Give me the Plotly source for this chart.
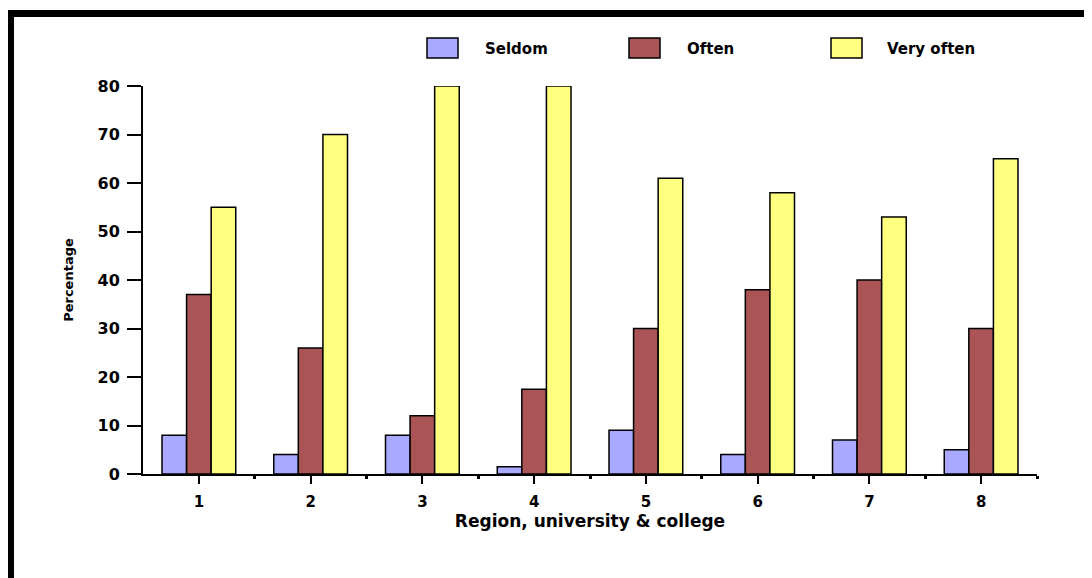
import plotly.graph_objects as go

# ---- data ----
categories = [1, 2, 3, 4, 5, 6, 7, 8]
series_names = ["Seldom", "Often", "Very often"]
seldom = [8, 4, 8, 1.5, 9, 4, 7, 5]
often = [37, 26, 12, 17.5, 30, 38, 40, 30]
very_often = [55, 70, 80, 80, 61, 58, 53, 65]
y_ticks = [0, 10, 20, 30, 40, 50, 60, 70, 80]
colors = ["#A9A9FF", "#AA5455", "#FFFF80"]

# page body has an 8px default margin; compensate so the picture lines up
OFF = 8
W, H = 1092 - OFF, 578 - OFF
L, R, T, B = 143 - OFF, 1037 - OFF, 86 - OFF, 474 - OFF  # plot area


def xp(px):
    return (px - OFF - L) / (R - L)


def yp(py):
    return (B - (py - OFF)) / (B - T)


FONT = "DejaVu Sans"

fig = go.Figure()
for name, vals, col in zip(series_names, [seldom, often, very_often], colors):
    fig.add_trace(go.Bar(
        x=categories, y=vals, name=name,
        marker=dict(color=col, line=dict(color="black", width=1.5)),
        showlegend=False,
    ))

fig.update_layout(
    width=W, height=H,
    margin=dict(l=L, r=W - R, t=T, b=H - B),
    paper_bgcolor="white", plot_bgcolor="white",
    barmode="group", bargap=0.34, bargroupgap=0,
    font=dict(family=FONT, color="black"),
)

fig.update_xaxes(
    range=[0.5, 8.5], tickmode="array", tickvals=categories,
    ticktext=[str(c) for c in categories],
    ticks="outside", ticklen=8, tickwidth=1.5, tickcolor="black",
    minor=dict(tickvals=[c + 0.5 for c in categories], ticklen=3, tickwidth=3,
               tickcolor="black", ticks="outside"),
    showline=True, linecolor="black", linewidth=2,
    showgrid=False, zeroline=False,
    tickfont=dict(family=FONT, size=15, color="black", weight="bold"),
    ticklabelstandoff=5,
    title=dict(text="<b>Region, university & college</b>",
               font=dict(family=FONT, size=17, color="black"), standoff=3),
)
fig.update_yaxes(
    range=[0, 80], tickmode="array", tickvals=y_ticks,
    ticks="outside", ticklen=14, tickwidth=1.5, tickcolor="black",
    showline=True, linecolor="black", linewidth=2,
    showgrid=False, zeroline=False,
    tickfont=dict(family=FONT, size=16, color="black", weight="bold"),
    ticklabelstandoff=4,
    title=dict(text="<b>Percentage</b>",
               font=dict(family=FONT, size=13, color="black"), standoff=21),
)

shapes = []
# outer black frame (extends beyond bottom of the picture)
shapes.append(dict(type="rect", xref="paper", yref="paper",
                   x0=xp(10.5), x1=xp(1089.5), y0=yp(620), y1=yp(13.5),
                   line=dict(color="black", width=7), fillcolor="rgba(0,0,0,0)",
                   layer="above"))

# manual legend boxes + labels
annotations = []
box_x0 = [427, 629, 831]
text_x = [483, 685, 885]
for name, col, bx, tx in zip(series_names, colors, box_x0, text_x):
    shapes.append(dict(type="rect", xref="paper", yref="paper",
                       x0=xp(bx), x1=xp(bx + 31), y0=yp(58), y1=yp(38),
                       line=dict(color="black", width=1.5), fillcolor=col))
    annotations.append(dict(xref="paper", yref="paper", x=xp(tx), y=yp(49),
                            xanchor="left", yanchor="middle", showarrow=False,
                            text=f"<b>{name}</b>",
                            font=dict(family=FONT, size=15, color="black")))

fig.update_layout(shapes=shapes, annotations=annotations)

fig.write_html("out.html")
